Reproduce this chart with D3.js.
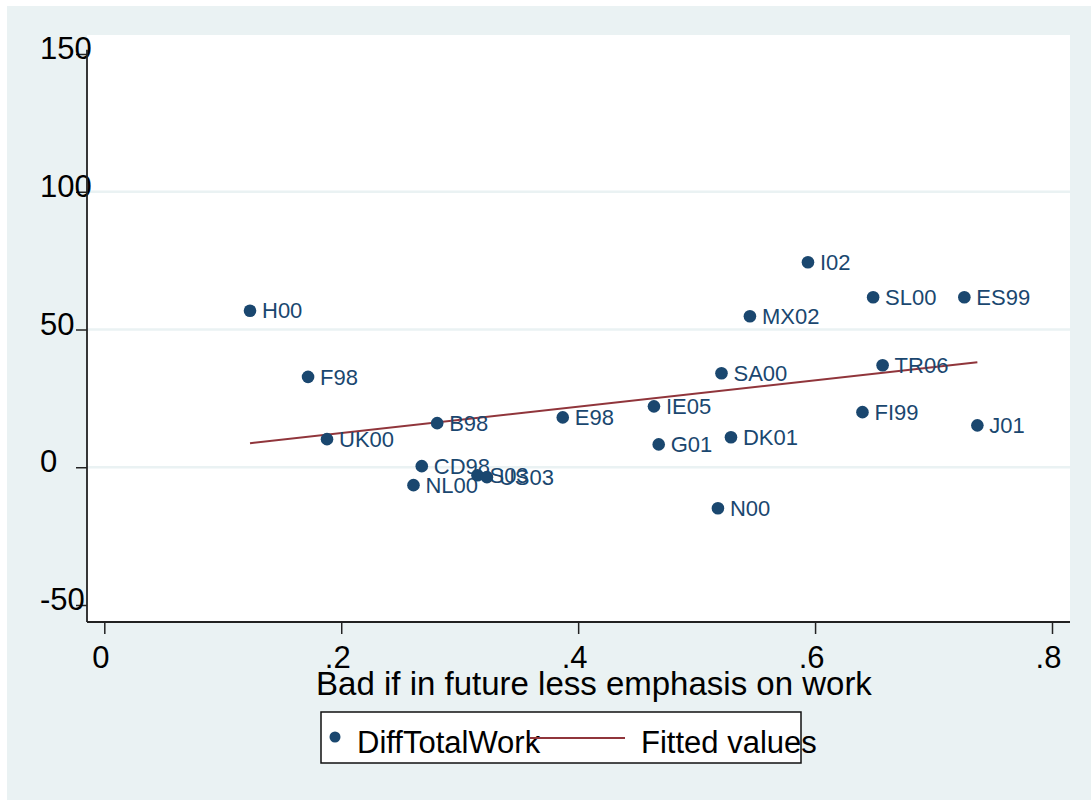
<!DOCTYPE html>
<html>
<head>
<meta charset="utf-8">
<script src="https://cdn.jsdelivr.net/npm/d3@7"></script>
<style>
  body { margin: 0; background: #fff; }
  text { font-family: "Liberation Sans", Arial, sans-serif; }
</style>
</head>
<body>
<div id="canvas"></div>
<script>
// country-year codes and their values
const countries = ["H00", "F98", "UK00", "B98", "CD98", "NL00", "S03", "US03", "E98", "IE05", "G01",
  "SA00", "N00", "DK01", "MX02", "I02", "SL00", "ES99", "TR06", "FI99", "J01"];
const badLessWork = [0.123, 0.172, 0.188, 0.281, 0.268, 0.261, 0.315, 0.323, 0.387, 0.464, 0.468,
  0.521, 0.518, 0.529, 0.545, 0.594, 0.649, 0.726, 0.657, 0.640, 0.737];
const diffTotalWork = [56.8, 32.8, 10.2, 16.0, 0.4, -6.5, -2.9, -3.6, 18.1, 22.1, 8.3,
  34.1, -14.9, 10.9, 54.8, 74.4, 61.7, 61.7, 37.0, 20.0, 15.2];

// fitted line end points
const fitX = [0.123, 0.737];
const fitY = [8.7, 38.1];

const xTicks = [0, 0.2, 0.4, 0.6, 0.8];
const yTicks = [-50, 0, 50, 100, 150];
const yGrid = [0, 50, 100];

const navy = "#1a476f";
const maroon = "#90353b";

let W = 1091, H = 800;
let plot = { left: 87, right: 1070, top: 35, bottom: 622 };

let svg = d3.select("#canvas")
  .append("svg")
  .attr("width", W)
  .attr("height", H);

// graph background
svg.append("rect")
  .attr("x", 7).attr("y", 6)
  .attr("width", W - 7).attr("height", H - 6)
  .attr("fill", "#eaf2f3");

svg.append("rect")
  .attr("x", plot.left).attr("y", plot.top)
  .attr("width", plot.right - plot.left)
  .attr("height", plot.bottom - plot.top)
  .attr("fill", "#fff");

let x = d3.scaleLinear().domain([0, 0.8]).range([104.3, 1052]);
let y = d3.scaleLinear().domain([-50, 150]).range([605, 54]);

// grid lines
svg.selectAll(".grid")
  .data(yGrid)
  .enter()
  .append("line")
  .attr("class", "grid")
  .attr("x1", plot.left).attr("x2", plot.right)
  .attr("y1", d => y(d)).attr("y2", d => y(d))
  .attr("stroke", "#eaf2f3")
  .attr("stroke-width", 2.5);

// y axis
let yAxis = svg.append("g")
  .attr("transform", "translate(" + plot.left + ",0)")
  .call(d3.axisLeft(y).tickValues(yTicks).tickSize(11).tickFormat(d => String(d)));
yAxis.select(".domain").remove();
yAxis.selectAll("line").attr("stroke", "#222").attr("stroke-width", 1.5);
yAxis.selectAll("text")
  .attr("x", 40 - plot.left)
  .attr("dy", "0.15em")
  .style("text-anchor", "start")
  .style("font-size", "31px")
  .attr("fill", "#000");
svg.append("line")
  .attr("x1", plot.left).attr("x2", plot.left)
  .attr("y1", y(151.5)).attr("y2", plot.bottom)
  .attr("stroke", "#222").attr("stroke-width", 1.8);

// x axis
let xAxis = svg.append("g")
  .attr("transform", "translate(0," + plot.bottom + ")")
  .call(d3.axisBottom(x).tickValues(xTicks).tickSize(12)
    .tickFormat(d => d === 0 ? "0" : d3.format(".1f")(d).replace(/^0/, "")));
xAxis.select(".domain").remove();
xAxis.selectAll("line").attr("stroke", "#222").attr("stroke-width", 1.5);
xAxis.selectAll("text")
  .attr("y", 46)
  .attr("dy", 0)
  .attr("dx", -4)
  .style("font-size", "31px")
  .attr("fill", "#000");
svg.append("line")
  .attr("x1", plot.left).attr("x2", plot.right)
  .attr("y1", plot.bottom).attr("y2", plot.bottom)
  .attr("stroke", "#222").attr("stroke-width", 1.8);

svg.append("text")
  .attr("x", 594)
  .attr("y", 695)
  .attr("text-anchor", "middle")
  .style("font-size", "33px")
  .attr("fill", "#000")
  .text("Bad if in future less emphasis on work");

// fitted line
svg.append("line")
  .attr("x1", x(fitX[0])).attr("y1", y(fitY[0]))
  .attr("x2", x(fitX[1])).attr("y2", y(fitY[1]))
  .attr("stroke", maroon)
  .attr("stroke-width", 2);

// points with labels
let pts = countries.map((c, i) => ({ name: c, x: badLessWork[i], y: diffTotalWork[i] }));

svg.selectAll(".pt")
  .data(pts)
  .enter()
  .append("circle")
  .attr("class", "pt")
  .attr("cx", d => x(d.x))
  .attr("cy", d => y(d.y))
  .attr("r", 6.3)
  .attr("fill", navy);

svg.selectAll(".lbl")
  .data(pts)
  .enter()
  .append("text")
  .attr("class", "lbl")
  .attr("x", d => x(d.x) + 12)
  .attr("y", d => y(d.y))
  .attr("dy", "0.35em")
  .style("font-size", "22px")
  .attr("fill", navy)
  .text(d => d.name);

// legend
let legend = svg.append("g");
legend.append("rect")
  .attr("x", 321).attr("y", 712)
  .attr("width", 480).attr("height", 51)
  .attr("fill", "#fff")
  .attr("stroke", "#111")
  .attr("stroke-width", 1.5);
legend.append("circle")
  .attr("cx", 335).attr("cy", 737).attr("r", 5.5)
  .attr("fill", navy);
legend.append("text")
  .attr("x", 357).attr("y", 753)
  .style("font-size", "31px")
  .attr("fill", "#000")
  .text("DiffTotalWork");
legend.append("line")
  .attr("x1", 530).attr("x2", 625)
  .attr("y1", 738).attr("y2", 738)
  .attr("stroke", maroon)
  .attr("stroke-width", 2);
legend.append("text")
  .attr("x", 641).attr("y", 753)
  .style("font-size", "31px")
  .attr("fill", "#000")
  .text("Fitted values");
</script>
</body>
</html>
